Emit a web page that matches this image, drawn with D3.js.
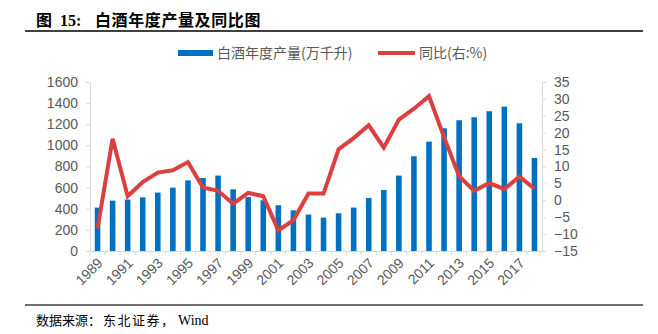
<!DOCTYPE html>
<html>
<head>
<meta charset="utf-8">
<script src="https://cdn.jsdelivr.net/npm/d3@7"></script>
<style>
    body { margin: 0; background: #fff; }
    .axis text { font-family: "Liberation Sans", Arial, sans-serif; font-size: 14px; fill: #595959; }
    .axis path, .axis line { stroke: #d9d9d9; }
    .serif { font-family: "Liberation Serif", "Noto Sans CJK SC", serif; fill: #000; }
</style>
</head>
<body>
<div id="chart"></div>
<script>
// Baijiu output (10k kilolitres) and YoY growth (%)
const years = ["1989","1990","1991","1992","1993","1994","1995","1996","1997","1998",
    "1999","2000","2001","2002","2003","2004","2005","2006","2007","2008",
    "2009","2010","2011","2012","2013","2014","2015","2016","2017","2018"];
const output = [411, 477, 487, 508, 553, 600, 669, 691, 714, 584,
    510, 480, 433, 385, 345, 316, 357, 411, 502, 578,
    714, 897, 1036, 1162, 1238, 1266, 1323, 1367, 1209, 881];
const growth = [-8.4, 18.2, 1.2, 5.4, 8.2, 8.9, 11.3, 3.8, 2.8, -1.0,
    2.2, 1.2, -8.9, -5.9, 2.0, 2.0, 15.1, 18.4, 22.2, 15.6,
    23.9, 27.1, 30.8, 18.7, 7.1, 2.8, 5.1, 3.3, 7.0, 3.4];
const leftTicks = [0, 200, 400, 600, 800, 1000, 1200, 1400, 1600];
const rightTicks = [-15, -10, -5, 0, 5, 10, 15, 20, 25, 30, 35];
const yearLabels = years.filter((d, i) => i % 2 === 0);

const w = 658, h = 334;
const plotLeft = 90, plotRight = 542, plotTop = 82, plotBottom = 251;

function init() {
    var svg = d3.select("#chart").append("svg").attr("width", w).attr("height", h);

    // Title and rules
    var title = svg.append("text").attr("class", "serif")
        .attr("y", 26)
        .style("font-size", "16px").style("font-weight", "bold");
    title.append("tspan").attr("x", 36).text("图");
    title.append("tspan").attr("x", 60).text("15:");
    title.append("tspan").attr("x", 95).style("letter-spacing", "0.6px").text("白酒年度产量及同比图");

    svg.append("line").attr("x1", 25).attr("x2", 643).attr("y1", 31).attr("y2", 31)
        .attr("stroke", "#404040").attr("stroke-width", 2);
    svg.append("line").attr("x1", 25).attr("x2", 643).attr("y1", 305).attr("y2", 305)
        .attr("stroke", "#404040").attr("stroke-width", 1.5);

    var source = svg.append("text").attr("class", "serif")
        .attr("y", 325)
        .style("font-size", "13px");
    source.append("tspan").attr("x", 36).text("数据来源：");
    source.append("tspan").attr("x", 103).style("letter-spacing", "1.5px").text("东北证券，");
    source.append("tspan").attr("x", 178).style("font-size", "14px").text("Wind");

    // Scales
    var x = d3.scaleBand().domain(years).range([plotLeft, plotRight])
        .paddingInner(0.63).paddingOuter(0.315);
    var yL = d3.scaleLinear().domain([0, 1600]).range([plotBottom, plotTop]);
    var yR = d3.scaleLinear().domain([-15, 35]).range([plotBottom, plotTop]);

    // Axes
    svg.append("g").attr("class", "axis")
        .attr("transform", "translate(" + plotLeft + ",0)")
        .call(d3.axisLeft(yL).tickValues(leftTicks).tickFormat(d3.format("d"))
            .tickSize(4).tickPadding(8).tickSizeOuter(0));
    svg.append("g").attr("class", "axis")
        .attr("transform", "translate(" + plotRight + ",0)")
        .call(d3.axisRight(yR).tickValues(rightTicks).tickFormat(d3.format("d"))
            .tickSize(4).tickPadding(8).tickSizeOuter(0));

    var xAxis = svg.append("g").attr("class", "axis")
        .attr("transform", "translate(0," + plotBottom + ")")
        .call(d3.axisBottom(x).tickValues(yearLabels).tickSize(0).tickSizeOuter(0));
    xAxis.selectAll("text")
        .attr("x", 0).attr("y", 0).attr("dy", 0)
        .attr("text-anchor", "end")
        .attr("transform", "translate(6,13) rotate(-45)");

    // Category boundary ticks on the x axis
    svg.append("g").selectAll("line")
        .data(years)
        .join("line")
        .attr("x1", (d) => x(d) - x.step() * x.paddingInner() / 2)
        .attr("x2", (d) => x(d) - x.step() * x.paddingInner() / 2)
        .attr("y1", plotBottom).attr("y2", plotBottom + 4)
        .attr("stroke", "#d9d9d9");

    // Bars
    svg.append("g").selectAll("rect")
        .data(years)
        .join("rect")
        .attr("x", (d) => x(d))
        .attr("width", x.bandwidth())
        .attr("y", (d, i) => yL(output[i]))
        .attr("height", (d, i) => yL(0) - yL(output[i]))
        .attr("fill", "#0070C0");

    // Growth line
    var line = d3.line()
        .x((d, i) => x(years[i]) + x.bandwidth() / 2)
        .y((d) => yR(d));
    svg.append("path")
        .datum(growth)
        .attr("d", line)
        .attr("fill", "none")
        .attr("stroke", "#DC3F3F")
        .attr("stroke-width", 4)
        .attr("stroke-linejoin", "miter");

    // Legend
    var legend = svg.append("g")
        .style("font-family", "'Noto Sans CJK SC', sans-serif")
        .style("font-size", "14px");
    legend.append("rect").attr("x", 178).attr("y", 50).attr("width", 35).attr("height", 6)
        .attr("fill", "#0070C0");
    legend.append("text").attr("x", 217).attr("y", 58).attr("fill", "#595959")
        .text("白酒年度产量(万千升)");
    legend.append("line").attr("x1", 378).attr("x2", 415).attr("y1", 53).attr("y2", 53)
        .attr("stroke", "#DC3F3F").attr("stroke-width", 4);
    legend.append("text").attr("x", 419).attr("y", 58).attr("fill", "#595959")
        .text("同比(右:%)");
}

window.onload = init;
</script>
</body>
</html>
